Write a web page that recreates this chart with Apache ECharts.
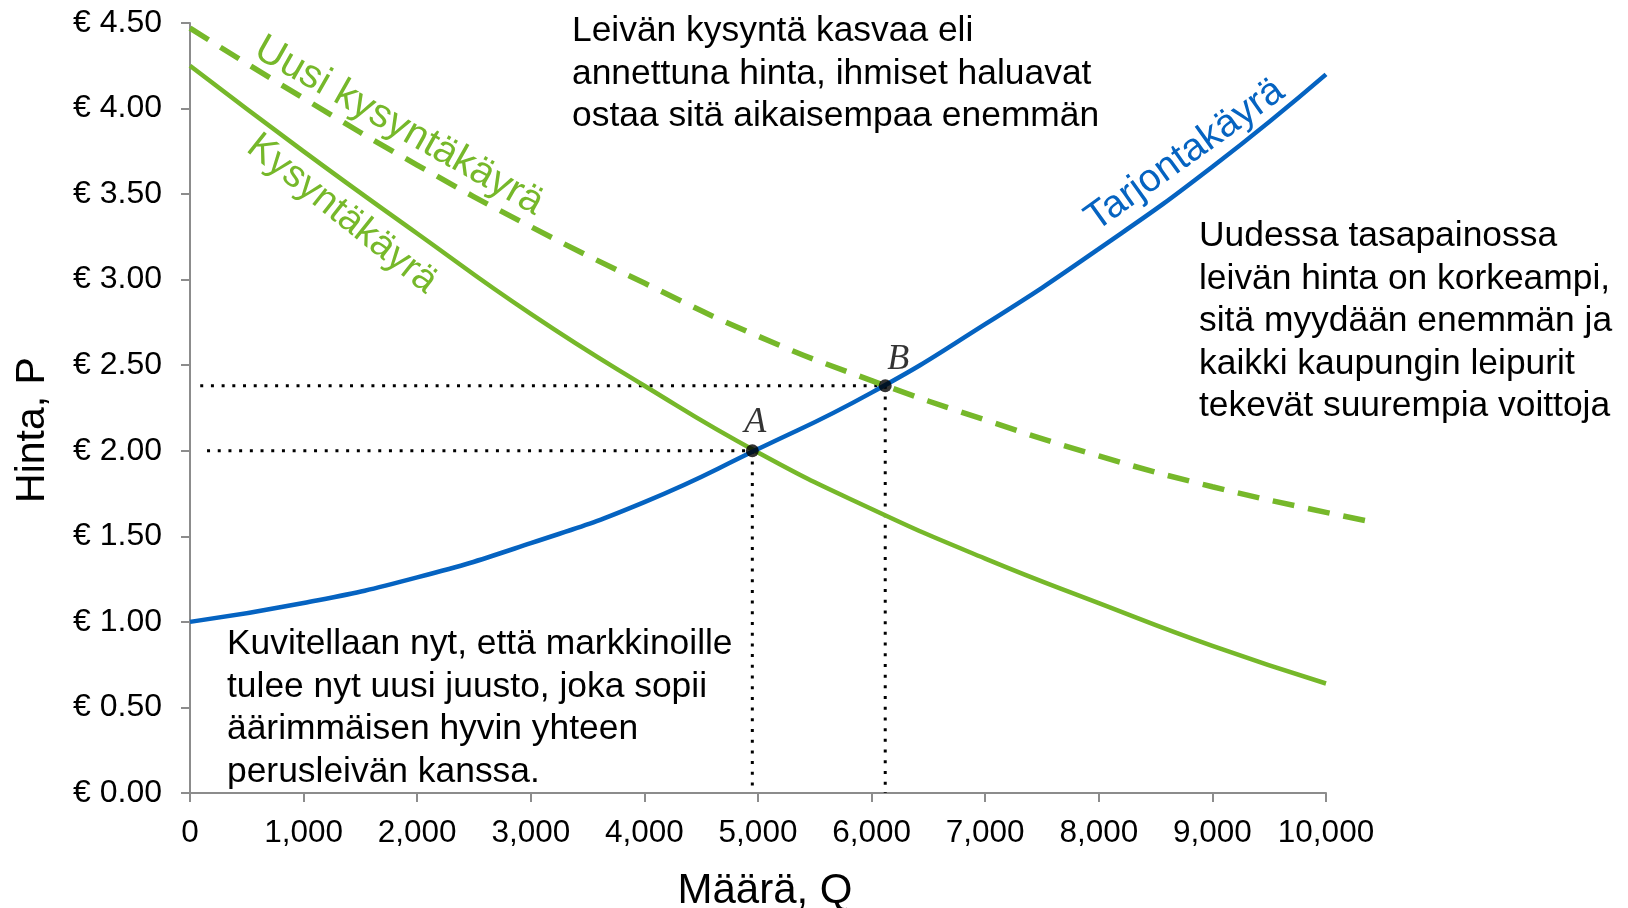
<!DOCTYPE html>
<html>
<head>
<meta charset="utf-8">
<script src="https://cdn.jsdelivr.net/npm/echarts@6/dist/echarts.min.js"></script>
<style>
  html, body { margin: 0; padding: 0; background: #fff; }
  #chart { width: 1628px; height: 908px; }
</style>
</head>
<body>
<div id="chart"></div>
<script>
// values
const quantity = [0, 1000, 2000, 3000, 4000, 5000, 6000, 7000, 8000, 9000, 10000]
const supplyPrice = [1.00, 1.11, 1.26, 1.46, 1.70, 2.01, 2.34, 2.74, 3.18, 3.66, 4.20]
const demandPrice = [4.25, 3.75, 3.27, 2.80, 2.38, 1.99, 1.66, 1.37, 1.11, 0.86, 0.64]
const newDemandQuantity = [0, 1000, 2000, 3000, 4000, 5000, 6000, 7000, 8000, 9000, 10000, 10440]
const newDemandPrice = [4.47, 4.06, 3.67, 3.31, 2.98, 2.67, 2.41, 2.18, 1.97, 1.79, 1.64, 1.58]
const pointNames = ['A', 'B']
const pointQuantity = [4950, 6120]
const pointPrice = [2.00, 2.38]
const guideStartQuantity = [150, 90]
const yTicks = ['€ 0.00', '€ 0.50', '€ 1.00', '€ 1.50', '€ 2.00', '€ 2.50', '€ 3.00', '€ 3.50', '€ 4.00', '€ 4.50']

const GREEN = '#76b82a'
const BLUE = '#0563c1'
const SANS = '"Liberation Sans", Arial, sans-serif'

// px per quantity unit is the same on both grids, the second one just reaches past 10,000
const plotWidth = 1628 - 190 - 302
const overflowRight = 1628 - 190 - plotWidth * newDemandQuantity[newDemandQuantity.length - 1] / 10000

const pairs = (xs, ys) => xs.map((x, i) => [x, ys[i]])

const guideSeries = []
pointNames.forEach((name, i) => {
  const dotted = {
    type: 'line',
    symbol: 'none',
    silent: true,
    lineStyle: { color: '#000', width: 3, type: [3, 7.7] },
    z: 1,
  }
  guideSeries.push({ ...dotted, data: [[guideStartQuantity[i], pointPrice[i]], [pointQuantity[i], pointPrice[i]]] })
  guideSeries.push({ ...dotted, data: [[pointQuantity[i], pointPrice[i]], [pointQuantity[i], 0]] })
})

const labelOffsets = [[3, 0], [13, 2]]

const chart = echarts.init(document.getElementById('chart'), null, { renderer: 'canvas' })

const axisGray = '#8c8c8c'

chart.setOption({
  backgroundColor: '#fff',
  animation: false,
  grid: [
    { left: 190, right: 302, top: 23, bottom: 115, containLabel: false },
    { left: 190, right: overflowRight, top: 23, bottom: 115, containLabel: false },
  ],
  xAxis: [
    {
      type: 'value',
      gridIndex: 0,
      min: 0,
      max: 10000,
      interval: 1000,
      axisLine: { show: true, lineStyle: { color: axisGray, width: 2 } },
      axisTick: { show: true, length: 9, lineStyle: { color: axisGray, width: 2 } },
      splitLine: { show: false },
      axisLabel: {
        margin: 24,
        color: '#000',
        fontSize: 31.5,
        fontFamily: SANS,
        formatter: v => v.toLocaleString('en-US'),
      },
    },
    { type: 'value', gridIndex: 1, min: 0, max: 10440, show: false },
  ],
  yAxis: [
    {
      type: 'value',
      gridIndex: 0,
      min: 0,
      max: 4.5,
      interval: 0.5,
      axisLine: { show: true, lineStyle: { color: axisGray, width: 2 } },
      axisTick: { show: true, length: 9, lineStyle: { color: axisGray, width: 2 } },
      splitLine: { show: false },
      axisLabel: {
        margin: 28,
        color: '#000',
        fontSize: 32,
        fontFamily: SANS,
        formatter: v => yTicks[Math.round(v / 0.5)],
      },
    },
    { type: 'value', gridIndex: 1, min: 0, max: 4.5, show: false },
  ],
  series: [
    ...guideSeries,
    {
      name: 'Kysyntäkäyrä',
      type: 'line',
      data: pairs(quantity, demandPrice),
      smooth: true,
      symbol: 'none',
      lineStyle: { color: GREEN, width: 4.5 },
      z: 3,
    },
    {
      name: 'Uusi kysyntäkäyrä',
      type: 'line',
      xAxisIndex: 1,
      yAxisIndex: 1,
      data: pairs(newDemandQuantity, newDemandPrice),
      smooth: true,
      symbol: 'none',
      lineStyle: { color: GREEN, width: 5.5, type: [22, 14] },
      z: 3,
    },
    {
      name: 'Tarjontakäyrä',
      type: 'line',
      data: pairs(quantity, supplyPrice),
      smooth: true,
      symbol: 'none',
      lineStyle: { color: BLUE, width: 4.5 },
      z: 4,
    },
    {
      name: 'Tasapaino',
      type: 'scatter',
      symbolSize: 13,
      itemStyle: { color: '#000' },
      z: 5,
      data: pointNames.map((name, i) => ({
        name,
        value: [pointQuantity[i], pointPrice[i]],
        label: { offset: labelOffsets[i] },
      })),
      label: {
        show: true,
        position: 'top',
        distance: 4,
        formatter: p => p.name,
        color: '#000',
        fontSize: 36,
        fontStyle: 'italic',
        fontFamily: '"Liberation Serif", "Times New Roman", serif',
      },
    },
  ],
  graphic: [
    {
      type: 'text', x: 399, y: 126, rotation: -0.515,
      style: { text: 'Uusi kysyntäkäyrä', fill: GREEN, fontSize: 40, fontFamily: SANS, align: 'center', verticalAlign: 'middle', textAlign: 'center', textVerticalAlign: 'middle' },
    },
    {
      type: 'text', x: 342, y: 214, rotation: -0.672,
      style: { text: 'Kysyntäkäyrä', fill: GREEN, fontSize: 38.5, fontFamily: SANS, align: 'center', verticalAlign: 'middle', textAlign: 'center', textVerticalAlign: 'middle' },
    },
    {
      type: 'text', x: 1185, y: 155, rotation: 0.62,
      style: { text: 'Tarjontakäyrä', fill: BLUE, fontSize: 39, fontFamily: SANS, align: 'center', verticalAlign: 'middle', textAlign: 'center', textVerticalAlign: 'middle' },
    },
    {
      type: 'text', x: 572, y: 10,
      style: {
        text: 'Leivän kysyntä kasvaa eli\nannettuna hinta, ihmiset haluavat\nostaa sitä aikaisempaa enemmän',
        fill: '#000', fontSize: 35.4, lineHeight: 42.5, fontFamily: SANS,
        align: 'left', verticalAlign: 'top', textAlign: 'left', textVerticalAlign: 'top',
      },
    },
    {
      type: 'text', x: 1199, y: 215,
      style: {
        text: 'Uudessa tasapainossa\nleivän hinta on korkeampi,\nsitä myydään enemmän ja\nkaikki kaupungin leipurit\ntekevät suurempia voittoja',
        fill: '#000', fontSize: 35.4, lineHeight: 42.5, fontFamily: SANS,
        align: 'left', verticalAlign: 'top', textAlign: 'left', textVerticalAlign: 'top',
      },
    },
    {
      type: 'text', x: 227, y: 623,
      style: {
        text: 'Kuvitellaan nyt, että markkinoille\ntulee nyt uusi juusto, joka sopii\näärimmäisen hyvin yhteen\nperusleivän kanssa.',
        fill: '#000', fontSize: 35.4, lineHeight: 42.5, fontFamily: SANS,
        align: 'left', verticalAlign: 'top', textAlign: 'left', textVerticalAlign: 'top',
      },
    },
    {
      type: 'text', x: 33, y: 430, rotation: Math.PI / 2,
      style: { text: 'Hinta, P', fill: '#000', fontSize: 41, fontFamily: SANS, align: 'center', verticalAlign: 'middle', textAlign: 'center', textVerticalAlign: 'middle' },
    },
    {
      type: 'text', x: 765, y: 891,
      style: { text: 'Määrä, Q', fill: '#000', fontSize: 42, fontFamily: SANS, align: 'center', verticalAlign: 'middle', textAlign: 'center', textVerticalAlign: 'middle' },
    },
  ],
})
</script>
</body>
</html>
